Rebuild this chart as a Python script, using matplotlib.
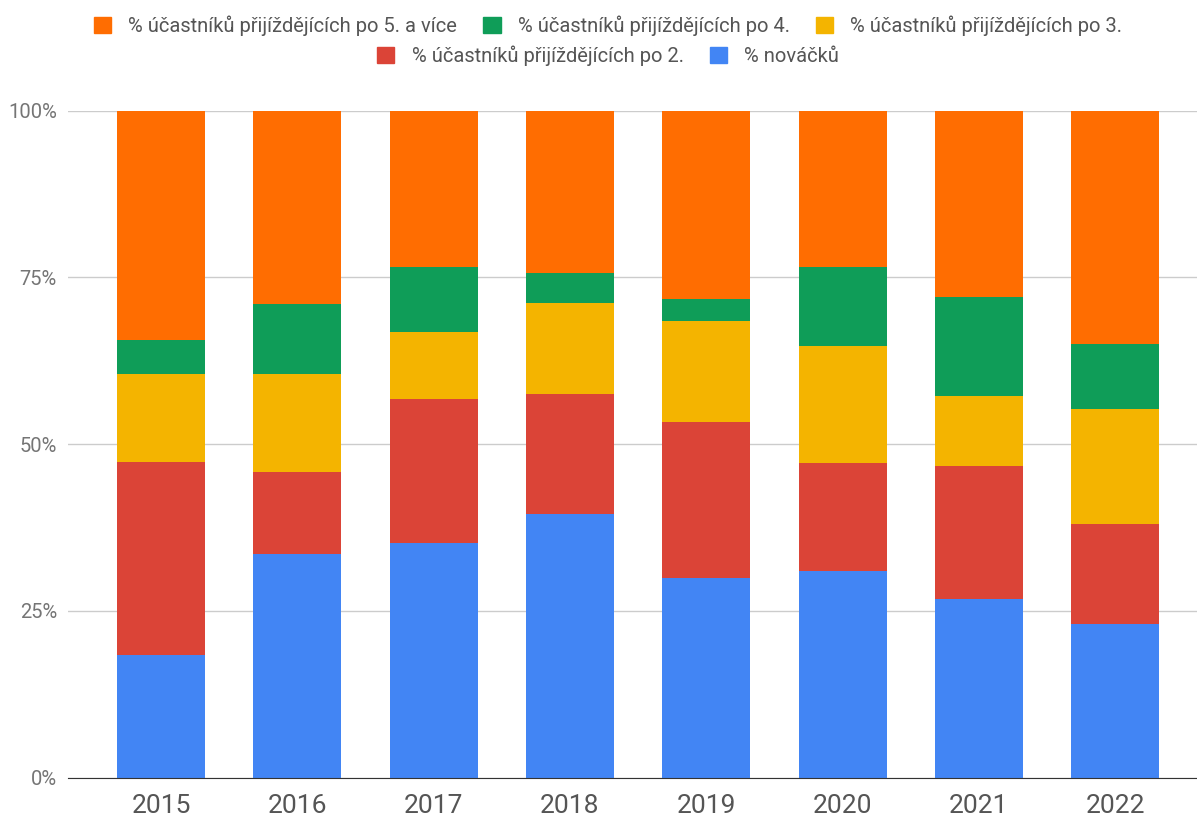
import numpy as np
import matplotlib.pyplot as plt
from matplotlib.patches import Patch

years = ['2015', '2016', '2017', '2018', '2019', '2020', '2021', '2022']
novacci = [18.4, 33.5, 35.2, 39.5, 30.0, 31.0, 26.8, 23.1]
po2 = [29.0, 12.4, 21.6, 18.1, 23.4, 16.2, 19.9, 14.9]
po3 = [13.2, 14.7, 10.0, 13.6, 15.1, 17.6, 10.6, 17.3]
po4 = [5.1, 10.4, 9.7, 4.5, 3.2, 11.7, 14.7, 9.7]
po5 = [34.3, 29.0, 23.5, 24.3, 28.3, 23.5, 28.0, 35.0]

labels = ['% nováčků',
          '% účastníků přijíždějících po 2.',
          '% účastníků přijíždějících po 3.',
          '% účastníků přijíždějících po 4.',
          '% účastníků přijíždějících po 5. a více']
colors = ['#4285f4', '#db4437', '#f4b400', '#0f9d58', '#ff6d01']

plt.rcParams['font.family'] = ['Roboto', 'DejaVu Sans']

fig = plt.figure(figsize=(11.97, 8.19), dpi=100)
ax = fig.add_axes([0.0568, 0.0504, 0.9432, 0.8144])

x = np.arange(len(years))
series = [novacci, po2, po3, po4, po5]
bottom = np.zeros(len(years))
for vals, c in zip(series, colors):
    ax.bar(x, vals, bottom=bottom, width=0.647, color=c, zorder=3)
    bottom += np.array(vals)

ax.set_xlim(-0.683, 7.6)
ax.set_ylim(0, 100)
ax.set_yticks([0, 25, 50, 75, 100])
ax.set_yticklabels(['0%', '25%', '50%', '75%', '100%'])
ax.set_xticks(x)
ax.set_xticklabels(years)
ax.yaxis.grid(True, color='#cccccc', linewidth=1, zorder=0)
for s in ['top', 'right', 'left']:
    ax.spines[s].set_visible(False)
ax.spines['bottom'].set_color('#333333')
ax.spines['bottom'].set_zorder(4)
ax.tick_params(axis='y', length=0, labelsize=14.5, labelcolor='#757575', pad=8)
ax.tick_params(axis='x', length=0, labelsize=19, labelcolor='#555555', pad=12)

h = [Patch(color=c) for c in colors]
common = dict(loc='center', frameon=False, fontsize=14.5, labelcolor='#555555',
              handlelength=0.85, handleheight=0.85, columnspacing=1.3,
              handletextpad=0.85)
leg1 = fig.legend([h[4], h[3], h[2]], [labels[4], labels[3], labels[2]],
                  bbox_to_anchor=(0.508, 0.969), ncol=3, **common)
leg2 = fig.legend([h[1], h[0]], [labels[1], labels[0]],
                  bbox_to_anchor=(0.508, 0.932), ncol=2, **common)

fig.savefig('out.png', dpi=100)
